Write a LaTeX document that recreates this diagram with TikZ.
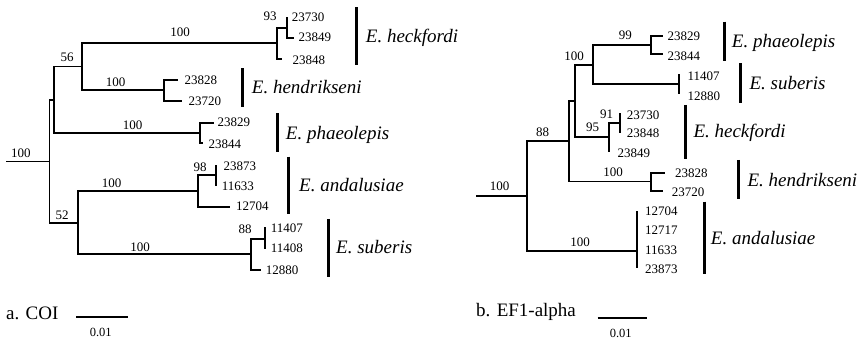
\documentclass[tikz,border=0pt]{standalone}
\usepackage{fontspec}
\setmainfont{Liberation Serif}
\begin{document}
\begin{tikzpicture}[x=1pt,y=-1pt,
  br/.style={line width=1.8pt},
  sbar/.style={line width=3pt},
  leaf/.style={anchor=west,inner sep=0pt,font=\fontsize{13}{13}\selectfont},
  boot/.style={inner sep=0pt,font=\fontsize{13}{13}\selectfont},
  spec/.style={anchor=west,inner sep=0pt,font=\fontsize{19}{19}\selectfont\itshape},
  capt/.style={anchor=west,inner sep=0pt,font=\fontsize{19}{19}\selectfont},
  scl/.style={inner sep=0pt,font=\fontsize{12.5}{12.5}\selectfont}]
\useasboundingbox (0,0) rectangle (863,339);

% ---------------- Tree a (COI) ----------------
\coordinate (ra0) at (6,161.5);
\coordinate (ra) at (49.5,161.5);
\coordinate (ua) at (54,100);
\coordinate (n56) at (82.3,66.5);
\coordinate (hec) at (276.7,43);
\coordinate (hi) at (286.7,27.7);
\coordinate (l23730a) at (286.7,16.7);
\coordinate (l23849a) at (294.3,38.3);
\coordinate (l23848a) at (281.7,59);
\coordinate (hen) at (164.3,90);
\coordinate (l23828a) at (177.7,80);
\coordinate (l23720a) at (181.7,100.7);
\coordinate (pha) at (200,132.7);
\coordinate (l23829a) at (214,122.7);
\coordinate (l23844a) at (202.7,143.3);
\coordinate (n52) at (78.3,222.7);
\coordinate (anda) at (198.3,191);
\coordinate (ai) at (216,175);
\coordinate (l23873a) at (216,165);
\coordinate (l11633a) at (216,185.7);
\coordinate (l12704a) at (230,206.7);
\coordinate (suba) at (250.7,254.3);
\coordinate (si) at (265,239);
\coordinate (l11407a) at (265,226.7);
\coordinate (l11408a) at (265,249.3);
\coordinate (l12880a) at (261,270);

\draw[br] (ra0) -- (ra);
\draw[br] (ra) |- (ua);
\draw[br] (ra) |- (n52);
\draw[br] (ua) |- (n56);
\draw[br] (ua) |- (pha);
\draw[br] (n56) |- (hec);
\draw[br] (n56) |- (hen);
\draw[br] (hec) |- (hi);
\draw[br] (hec) |- (l23848a);
\draw[br] (hi) |- (l23730a);
\draw[br] (hi) |- (l23849a);
\draw[br] (hen) |- (l23828a);
\draw[br] (hen) |- (l23720a);
\draw[br] (pha) |- (l23829a);
\draw[br] (pha) |- (l23844a);
\draw[br] (n52) |- (anda);
\draw[br] (n52) |- (suba);
\draw[br] (anda) |- (ai);
\draw[br] (anda) |- (l12704a);
\draw[br] (ai) |- (l23873a);
\draw[br] (ai) |- (l11633a);
\draw[br] (suba) |- (si);
\draw[br] (suba) |- (l12880a);
\draw[br] (si) |- (l11407a);
\draw[br] (si) |- (l11408a);

\node[boot] (ba1) at (21,153) {100};
\node[boot] (ba2) at (67,57) {56};
\node[boot] (ba3) at (180,32) {100};
\node[boot] (ba4) at (270,16.7) {93};
\node[boot] (ba5) at (115.7,82.3) {100};
\node[boot] (ba6) at (132.7,125) {100};
\node[boot] (ba7) at (62,215) {52};
\node[boot] (ba8) at (111.7,183.3) {100};
\node[boot] (ba9) at (200,167) {98};
\node[boot] (ba10) at (140,247) {100};
\node[boot] (ba11) at (245,229.3) {88};

\node[leaf] (ta1) at (291.7,17.7) {23730};
\node[leaf] (ta2) at (298.3,37.3) {23849};
\node[leaf] (ta3) at (292.3,60) {23848};
\node[leaf] (ta4) at (184.3,80) {23828};
\node[leaf] (ta5) at (188.3,101) {23720};
\node[leaf] (ta6) at (217.3,122.7) {23829};
\node[leaf] (ta7) at (208.3,144) {23844};
\node[leaf] (ta8) at (223.3,166.7) {23873};
\node[leaf] (ta9) at (221.7,186.7) {11633};
\node[leaf] (ta10) at (236,206.7) {12704};
\node[leaf] (ta11) at (270.7,228.3) {11407};
\node[leaf] (ta12) at (270.7,248.3) {11408};
\node[leaf] (ta13) at (265.7,270) {12880};

\draw[sbar] (356,7.3) -- (356,65);
\draw[sbar] (242.7,68.3) -- (242.7,107.3);
\draw[sbar] (277.3,113.3) -- (277.3,151.7);
\draw[sbar] (288.3,156.7) -- (288.3,214.3);
\draw[sbar] (328.3,219) -- (328.3,276.7);
\node[spec] (sa1) at (365.7,38.3) {E. heckfordi};
\node[spec] (sa2) at (251.7,87.3) {E. hendrikseni};
\node[spec] (sa3) at (285.7,135) {E. phaeolepis};
\node[spec] (sa4) at (299,185) {E. andalusiae};
\node[spec] (sa5) at (336,247.3) {E. suberis};

\node[capt] (capa) at (6,313.3) {a. COI};
\coordinate (sca1) at (76,317.3);
\coordinate (sca2) at (128.3,317.3);
\draw[br] (sca1) -- (sca2);
\node[scl] (sla) at (100.7,332.7) {0.01};

% ---------------- Tree b (EF1-alpha) ----------------
\coordinate (rb0) at (476,196);
\coordinate (rb) at (527,196);
\coordinate (n88) at (569.3,141);
\coordinate (n100) at (575,100.7);
\coordinate (n99) at (593.3,65);
\coordinate (phab) at (650.7,45);
\coordinate (l23829b) at (662.7,35.7);
\coordinate (l23844b) at (662.7,54.3);
\coordinate (subb) at (679.3,84);
\coordinate (l11407b) at (679.3,74);
\coordinate (l12880b) at (679.3,94);
\coordinate (n95) at (608.7,137);
\coordinate (n91) at (620,123.3);
\coordinate (l23730b) at (620,113.3);
\coordinate (l23848b) at (620,133.3);
\coordinate (l23849b) at (608.7,151.7);
\coordinate (henb) at (650.7,181.5);
\coordinate (l23828b) at (665,173.3);
\coordinate (l23720b) at (663.3,191);
\coordinate (andb) at (637.3,251);
\coordinate (l12704b) at (637.3,210.7);
\coordinate (l23873b) at (637.3,268.3);

\draw[br] (rb0) -- (rb);
\draw[br] (rb) |- (n88);
\draw[br] (rb) |- (andb);
\draw[br] (n88) |- (n100);
\draw[br] (n88) |- (henb);
\draw[br] (n100) |- (n99);
\draw[br] (n100) |- (n95);
\draw[br] (n99) |- (phab);
\draw[br] (n99) |- (subb);
\draw[br] (phab) |- (l23829b);
\draw[br] (phab) |- (l23844b);
\draw[br] (subb) |- (l11407b);
\draw[br] (subb) |- (l12880b);
\draw[br] (n95) |- (n91);
\draw[br] (n95) |- (l23849b);
\draw[br] (n91) |- (l23730b);
\draw[br] (n91) |- (l23848b);
\draw[br] (henb) |- (l23828b);
\draw[br] (henb) |- (l23720b);
\draw[br] (andb) |- (l12704b);
\draw[br] (andb) |- (l23873b);

\node[boot] (bb1) at (499.7,186.7) {100};
\node[boot] (bb2) at (542.7,132.3) {88};
\node[boot] (bb3) at (574,56) {100};
\node[boot] (bb4) at (625.3,35) {99};
\node[boot] (bb5) at (592.5,127.7) {95};
\node[boot] (bb6) at (606.7,114.3) {91};
\node[boot] (bb7) at (613,172) {100};
\node[boot] (bb8) at (580,242) {100};

\node[leaf] (tb1) at (667.3,36) {23829};
\node[leaf] (tb2) at (667.3,56.7) {23844};
\node[leaf] (tb3) at (687.3,76) {11407};
\node[leaf] (tb4) at (687.3,96) {12880};
\node[leaf] (tb5) at (626.7,115) {23730};
\node[leaf] (tb6) at (626.7,133.3) {23848};
\node[leaf] (tb7) at (617.3,153.7) {23849};
\node[leaf] (tb8) at (675,173.3) {23828};
\node[leaf] (tb9) at (671.7,192.7) {23720};
\node[leaf] (tb10) at (645,211) {12704};
\node[leaf] (tb11) at (645,230) {12717};
\node[leaf] (tb12) at (645,250) {11633};
\node[leaf] (tb13) at (645,269.3) {23873};

\draw[sbar] (724.7,21.7) -- (724.7,60.7);
\draw[sbar] (740.7,63.3) -- (740.7,102.7);
\draw[sbar] (685,105) -- (685,159.3);
\draw[sbar] (738.3,160) -- (738.3,199.3);
\draw[sbar] (704,201.7) -- (704,274);
\node[spec] (sb1) at (731.7,43.3) {E. phaeolepis};
\node[spec] (sb2) at (749.3,83.3) {E. suberis};
\node[spec] (sb3) at (693.3,133.3) {E. heckfordi};
\node[spec] (sb4) at (747.3,180) {E. hendrikseni};
\node[spec] (sb5) at (710.7,238.3) {E. andalusiae};

\node[capt] (capb) at (476,311.7) {b. EF1-alpha};
\coordinate (scb1) at (597.7,318.3);
\coordinate (scb2) at (646.7,318.3);
\draw[br] (scb1) -- (scb2);
\node[scl] (slb) at (620.7,333.3) {0.01};
\end{tikzpicture}
\end{document}
